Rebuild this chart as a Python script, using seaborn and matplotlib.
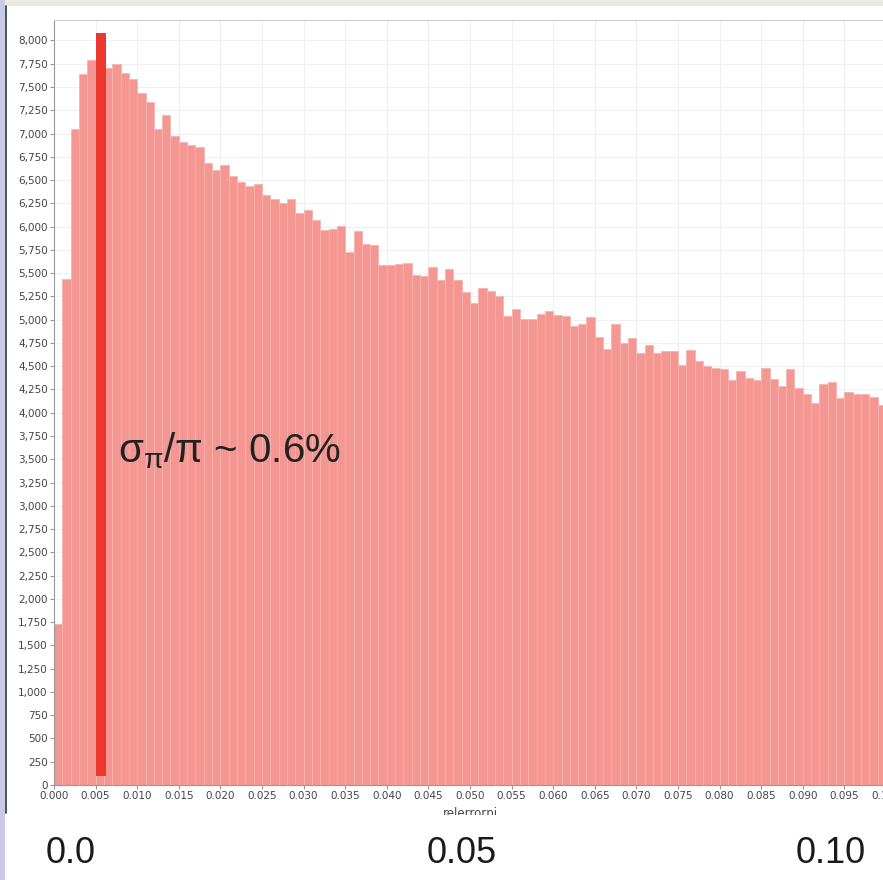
import numpy as np
import pandas as pd
import seaborn as sns
import matplotlib
matplotlib.use("Agg")
import matplotlib.pyplot as plt
from matplotlib.patches import Rectangle
from matplotlib.lines import Line2D
from matplotlib.ticker import FuncFormatter

# Histogram of relerrorpi: 100 bins of width 0.001 on [0, 0.1]
bin_width = 0.001
x_range = (0.0, 0.1)
counts = [
    1730, 5440, 7050, 7640, 7790, 7740, 7700, 7750, 7650, 7590,
    7440, 7340, 7050, 7200, 6975, 6910, 6875, 6850, 6685, 6610,
    6665, 6545, 6478, 6438, 6460, 6337, 6298, 6250, 6300, 6141,
    6183, 6076, 5961, 5976, 6008, 5728, 5954, 5818, 5800, 5585,
    5589, 5600, 5610, 5478, 5467, 5567, 5424, 5545, 5431, 5298,
    5180, 5341, 5309, 5252, 5040, 5120, 5005, 5012, 5059, 5091,
    5048, 5040, 4937, 4958, 5030, 4815, 4690, 4958, 4744, 4805,
    4647, 4733, 4647, 4662, 4662, 4513, 4670, 4558, 4505, 4479,
    4472, 4350, 4449, 4374, 4350, 4486, 4361, 4286, 4475, 4261,
    4196, 4106, 4304, 4332, 4160, 4221, 4196, 4203, 4164, 4082,
]
bin_centers = x_range[0] + bin_width * (np.arange(len(counts)) + 0.5)
df = pd.DataFrame({"relerrorpi": bin_centers, "count": counts})

# Highlighted marker bar for the typical relative error
marker_center = 0.0057
marker_width = 0.0012
marker_low = 100
marker_high = 8075
marker_label = r"$\mathregular{\sigma_{\pi}/\pi}$ ~ 0.6%"

y_ticks = np.arange(0, 8001, 250)
x_ticks = np.arange(0, 0.1001, 0.005)
bottom_labels = ["0.0", "0.05", "0.10"]
bottom_label_x = [71, 462, 831]

sns.set_style("white")
plt.rcParams["font.family"] = ["DejaVu Sans"]
plt.rcParams["mathtext.fontset"] = "custom"
plt.rcParams["mathtext.rm"] = "Liberation Sans"

W, H = 883, 880
fig = plt.figure(figsize=(W / 100, H / 100), dpi=100)
fig.patch.set_facecolor("white")
ax = fig.add_axes([54 / W, 95 / H, 832 / W, 765 / H])

sns.histplot(
    data=df, x="relerrorpi", weights="count", binwidth=bin_width,
    binrange=x_range, ax=ax,
    color="#F49692", alpha=1.0, edgecolor="#F8B4B0", linewidth=0.6,
)

ax.bar(marker_center, marker_high - marker_low, bottom=marker_low,
       width=marker_width, color="#EB372D", linewidth=0, zorder=3)

ax.set_xlim(*x_range)
ax.set_ylim(0, 8220)
ax.set_yticks(y_ticks)
ax.set_xticks(x_ticks)
ax.yaxis.set_major_formatter(FuncFormatter(lambda v, p: f"{int(round(v)):,}"))
ax.xaxis.set_major_formatter(FuncFormatter(lambda v, p: f"{v:.3f}"))
ax.tick_params(axis="both", labelsize=7.5, labelcolor="#444444", color="#999999",
               length=3, width=0.8, direction="out", pad=1.5)
ax.tick_params(axis="y", left=True)
ax.tick_params(axis="x", bottom=True)
ax.set_ylabel("")
ax.set_xlabel("relerrorpi", fontsize=8.5, color="#444444", labelpad=4)

ax.grid(True, color="#F0F0F0", linewidth=0.8)
ax.set_axisbelow(True)
for side in ["left", "bottom"]:
    ax.spines[side].set_color("#999999")
    ax.spines[side].set_linewidth(0.8)
ax.spines["top"].set_color("#CCCCCC")
ax.spines["top"].set_linewidth(0.8)
ax.spines["right"].set_visible(False)

ax.text((118 - 54) / 832, 1 - (462 - 20) / 765, marker_label,
        transform=ax.transAxes, fontsize=29, color="#222222",
        family="Liberation Sans", ha="left", va="baseline", zorder=5)

# Surrounding page elements
fig.patches.append(Rectangle((5 / W, 0), 1, 65 / H, transform=fig.transFigure,
                             facecolor="white", edgecolor="none", zorder=5))
fig.patches.append(Rectangle((0, 1 - 6 / H), 1, 6 / H, transform=fig.transFigure,
                             facecolor="#ECE9DF", edgecolor="none", zorder=5))
fig.patches.append(Rectangle((0, 0), 5 / W, 1, transform=fig.transFigure,
                             facecolor="#C9CAE8", edgecolor="none", zorder=5))
fig.lines.append(Line2D([6 / W, 6 / W], [1 - 813 / H, 1 - 6 / H],
                        transform=fig.transFigure, color="#333333",
                        linewidth=1.2, zorder=6))

for lab, px in zip(bottom_labels, bottom_label_x):
    fig.text(px / W, (H - 863) / H, lab, fontsize=26, color="#1A1A1A",
             family="Liberation Sans", ha="center", va="baseline", zorder=7)

fig.savefig("out.png", dpi=100)
